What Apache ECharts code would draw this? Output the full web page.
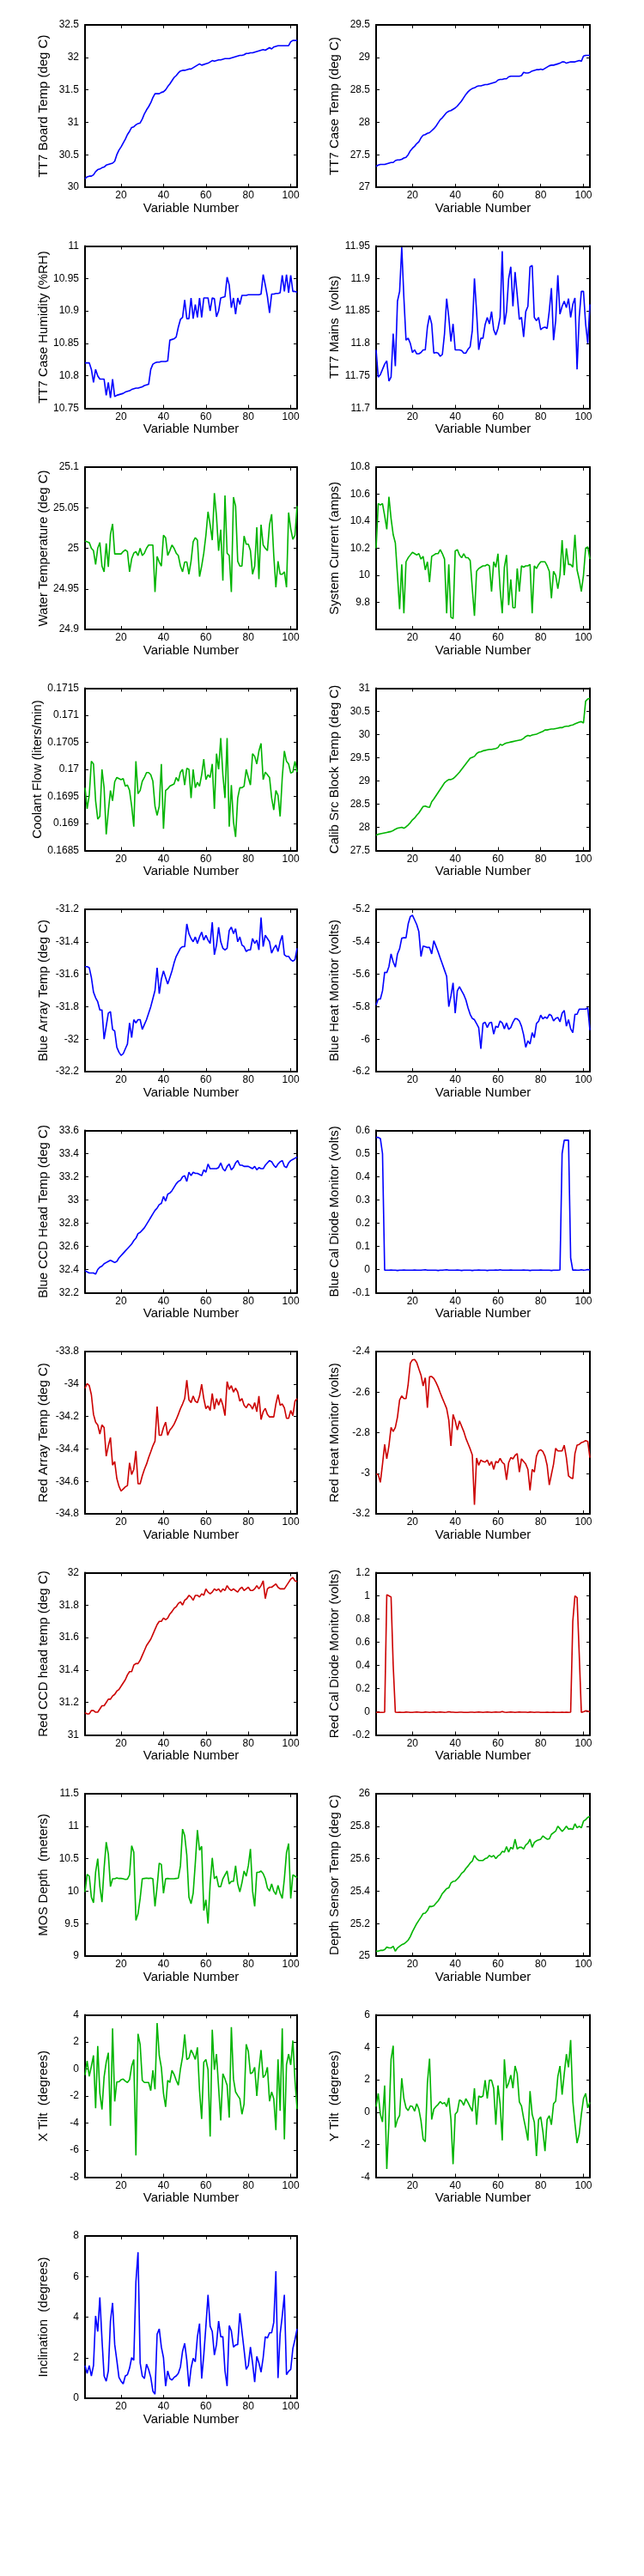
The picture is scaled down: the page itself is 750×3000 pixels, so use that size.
<!DOCTYPE html>
<html>
<head>
<meta charset="utf-8">
<script src="https://cdn.jsdelivr.net/npm/echarts@6/dist/echarts.min.js"></script>
<style>
  html, body { margin: 0; padding: 0; background: #fff; }
  #chart { width: 750px; height: 3000px; }
</style>
</head>
<body>
<div id="chart"></div>
<script>
// x values (Variable Number) shared by every panel
var variableNumbers = [
  3,4,5,6,7,8,9,10,11,12,13,14,15,16,17,18,19,20,21,22,23,24,25,26,27,28,29,30,31,32,
  33,34,35,36,37,38,39,40,41,42,43,44,45,46,47,48,49,50,51,52,53,54,55,56,57,58,59,60,61,62,
  63,64,65,66,67,68,69,70,71,72,73,74,75,76,77,78,79,80,81,82,83,84,85,86,87,88,89,90,91,92,
  93,94,95,96,97,98,99,100,101,102,103
];
var xTickValues = [20, 40, 60, 80, 100];

var boardTemp = [
  30.13,30.16,30.17,30.17,30.19,30.24,30.27,30.28,30.3,30.31,
  30.34,30.35,30.36,30.37,30.4,30.5,30.57,30.62,30.68,30.74,
  30.81,30.86,30.92,30.93,30.96,30.98,30.99,31.05,31.13,31.19,
  31.24,31.3,31.38,31.44,31.44,31.44,31.46,31.47,31.5,31.55,
  31.59,31.64,31.69,31.72,31.76,31.79,31.8,31.8,31.81,31.82,
  31.82,31.84,31.86,31.88,31.9,31.88,31.89,31.9,31.91,31.93,
  31.95,31.94,31.95,31.96,31.96,31.97,31.98,31.98,31.98,31.99,
  32.0,32.01,32.02,32.03,32.03,32.04,32.06,32.06,32.07,32.07,
  32.08,32.09,32.1,32.11,32.12,32.11,32.13,32.15,32.13,32.16,
  32.17,32.18,32.18,32.18,32.18,32.18,32.18,32.24,32.26,32.26,
  32.26
];
var caseTemp = [
  27.32,27.34,27.35,27.35,27.35,27.36,27.37,27.38,27.38,27.41,
  27.42,27.42,27.43,27.45,27.46,27.5,27.56,27.6,27.63,27.67,
  27.7,27.76,27.8,27.81,27.83,27.84,27.87,27.9,27.94,27.99,
  28.04,28.07,28.11,28.15,28.17,28.18,28.2,28.22,28.25,28.29,
  28.33,28.38,28.43,28.47,28.5,28.52,28.53,28.55,28.56,28.56,
  28.57,28.58,28.58,28.59,28.6,28.61,28.62,28.65,28.66,28.66,
  28.67,28.67,28.7,28.71,28.71,28.71,28.71,28.71,28.72,28.77,
  28.76,28.76,28.77,28.79,28.8,28.81,28.81,28.82,28.81,28.83,
  28.85,28.87,28.88,28.88,28.89,28.9,28.91,28.93,28.93,28.91,
  28.92,28.93,28.93,28.93,28.94,28.95,28.94,29.02,29.03,29.03,
  29.03
];
var caseHumidity = [
  10.82,10.82,10.82,10.81,10.79,10.81,10.8,10.795,10.795,10.795,
  10.77,10.79,10.766,10.795,10.768,10.77,10.771,10.772,10.773,10.775,
  10.776,10.777,10.779,10.78,10.781,10.781,10.782,10.783,10.785,10.786,
  10.787,10.81,10.818,10.82,10.821,10.821,10.822,10.822,10.822,10.823,
  10.855,10.856,10.857,10.86,10.875,10.887,10.89,10.917,10.888,10.888,
  10.92,10.888,10.91,10.89,10.92,10.89,10.92,10.92,10.92,10.9,
  10.92,10.919,10.891,10.9,10.92,10.921,10.922,10.952,10.94,10.905,
  10.92,10.895,10.92,10.91,10.924,10.924,10.924,10.925,10.925,10.925,
  10.925,10.925,10.925,10.926,10.956,10.94,10.922,10.897,10.926,10.926,
  10.927,10.927,10.928,10.955,10.93,10.956,10.928,10.955,10.93,10.93,
  10.929
];
var mainsVolts = [
  11.79,11.748,11.752,11.76,11.768,11.773,11.742,11.748,11.815,11.765,
  11.865,11.88,11.948,11.87,11.805,11.808,11.8,11.786,11.79,11.784,
  11.784,11.786,11.79,11.79,11.825,11.843,11.83,11.785,11.786,11.785,
  11.78,11.783,11.815,11.869,11.84,11.803,11.83,11.79,11.79,11.79,
  11.789,11.785,11.785,11.791,11.795,11.82,11.9,11.849,11.79,11.808,
  11.808,11.829,11.84,11.83,11.849,11.821,11.813,11.823,11.84,11.942,
  11.829,11.849,11.9,11.918,11.857,11.91,11.875,11.837,11.84,11.81,
  11.849,11.857,11.918,11.92,11.84,11.835,11.84,11.821,11.824,11.825,
  11.823,11.85,11.885,11.805,11.835,11.905,11.845,11.857,11.865,11.855,
  11.869,11.84,11.86,11.87,11.76,11.84,11.88,11.88,11.83,11.8,
  11.86
];
var waterTemp = [
  25.009,25.008,25.007,25.0,24.997,24.98,25.0,25.007,24.978,24.971,
  25.006,24.977,25.017,25.03,24.993,24.993,24.993,24.993,24.996,24.998,
  24.996,24.971,24.987,24.994,24.996,24.991,25.0,24.991,24.994,25.0,
  25.004,25.004,25.004,24.946,24.99,24.983,24.978,25.016,25.013,24.991,
  24.997,25.004,25.0,24.994,24.991,24.978,24.971,24.983,24.983,24.968,
  24.984,25.008,25.013,25.01,24.965,24.978,24.994,25.016,25.045,25.029,
  25.01,25.068,25.039,24.997,25.023,24.96,25.065,24.994,24.991,24.946,
  25.063,25.052,24.984,24.978,24.978,25.015,25.005,25.005,24.997,24.968,
  24.978,25.026,24.962,25.029,25.004,25.0,24.997,25.029,25.042,24.991,
  24.952,24.984,24.968,24.968,24.971,24.952,25.044,25.024,25.011,25.016,
  25.052
];
var systemCurrent = [
  10.2,10.53,10.52,10.53,10.44,10.34,10.58,10.42,10.3,10.24,
  10.0,9.75,10.08,9.72,10.1,10.13,10.15,10.17,10.16,10.15,
  10.16,10.12,10.14,10.04,10.1,9.95,10.14,10.15,10.16,10.16,
  10.19,10.16,10.12,9.72,10.08,9.69,9.68,10.18,10.19,10.15,
  10.13,10.16,10.13,10.13,10.11,9.9,9.7,10.03,10.05,10.06,
  10.07,10.07,10.08,10.07,9.88,10.1,10.06,10.16,9.9,9.72,
  10.06,10.15,9.78,9.97,9.76,9.76,10.05,9.88,10.07,10.06,
  10.07,10.07,10.08,9.72,10.07,10.05,10.08,10.1,10.1,10.1,
  10.07,10.03,9.83,10.03,10.0,9.9,10.0,10.26,10.0,10.2,
  10.08,10.08,10.06,10.3,10.04,9.97,9.88,10.0,10.2,10.21,
  10.12
];
var coolantFlow = [
  0.16966,0.16927,0.16952,0.17015,0.1701,0.16942,0.16908,0.16913,0.17,0.16966,
  0.1688,0.16923,0.16961,0.16942,0.16977,0.16985,0.16983,0.16981,0.16983,0.16969,
  0.16971,0.16961,0.16932,0.16894,0.17015,0.16955,0.16961,0.16978,0.16985,0.16994,
  0.16994,0.1699,0.16978,0.16932,0.16915,0.16932,0.1701,0.1689,0.16961,0.16964,
  0.16969,0.16971,0.16973,0.16985,0.16978,0.16995,0.17,0.16971,0.17002,0.17,
  0.16947,0.17,0.16966,0.16976,0.16969,0.1699,0.17019,0.16981,0.1699,0.16985,
  0.1701,0.16927,0.17029,0.17,0.17058,0.1699,0.16947,0.17058,0.16894,0.16971,
  0.16903,0.16875,0.16947,0.16966,0.16966,0.16969,0.17,0.16985,0.16971,0.17029,
  0.17024,0.1701,0.17034,0.17048,0.16981,0.16995,0.1699,0.16985,0.16947,0.16925,
  0.16961,0.16952,0.16913,0.16985,0.17034,0.17015,0.1701,0.16993,0.16995,0.17015,
  0.16995
];
var calibBlockTemp = [
  27.83,27.85,27.86,27.87,27.88,27.89,27.9,27.91,27.93,27.96,
  27.98,27.99,28.0,27.98,28.01,28.05,28.1,28.16,28.2,28.26,
  28.31,28.38,28.45,28.46,28.44,28.43,28.55,28.61,28.68,28.75,
  28.82,28.89,28.96,29.0,29.03,29.03,29.05,29.09,29.14,29.19,
  29.25,29.31,29.37,29.43,29.49,29.51,29.53,29.59,29.62,29.63,
  29.65,29.66,29.67,29.68,29.68,29.69,29.7,29.72,29.79,29.77,
  29.8,29.82,29.83,29.84,29.85,29.86,29.87,29.88,29.89,29.92,
  29.96,29.98,29.97,29.99,30.0,30.01,30.03,30.05,30.07,30.1,
  30.1,30.11,30.12,30.12,30.13,30.14,30.15,30.15,30.17,30.18,
  30.18,30.2,30.21,30.23,30.25,30.27,30.28,30.25,30.72,30.77,
  30.78
];
var blueArrayTemp = [
  -31.553,-31.553,-31.56,-31.62,-31.71,-31.745,-31.77,-31.82,-31.82,-32.0,
  -31.92,-31.84,-31.83,-31.94,-31.95,-32.05,-32.08,-32.1,-32.09,-32.06,
  -32.03,-31.9,-31.99,-31.88,-31.9,-31.88,-31.88,-31.94,-31.91,-31.88,
  -31.84,-31.8,-31.75,-31.7,-31.56,-31.72,-31.63,-31.58,-31.62,-31.66,
  -31.62,-31.58,-31.53,-31.49,-31.465,-31.44,-31.43,-31.43,-31.29,-31.35,
  -31.38,-31.4,-31.37,-31.41,-31.37,-31.34,-31.39,-31.36,-31.39,-31.41,
  -31.28,-31.48,-31.42,-31.31,-31.4,-31.44,-31.45,-31.44,-31.33,-31.31,
  -31.35,-31.32,-31.4,-31.37,-31.42,-31.43,-31.46,-31.45,-31.45,-31.38,
  -31.41,-31.39,-31.45,-31.25,-31.43,-31.36,-31.38,-31.4,-31.47,-31.44,
  -31.42,-31.46,-31.4,-31.36,-31.48,-31.49,-31.49,-31.51,-31.52,-31.51,
  -31.44
];
var blueHeatMonitor = [
  -5.79,-5.753,-5.753,-5.702,-5.588,-5.59,-5.553,-5.475,-5.524,-5.556,
  -5.475,-5.443,-5.378,-5.375,-5.375,-5.29,-5.245,-5.236,-5.265,-5.294,
  -5.338,-5.491,-5.427,-5.43,-5.435,-5.435,-5.475,-5.394,-5.427,-5.462,
  -5.5,-5.537,-5.575,-5.613,-5.8,-5.734,-5.653,-5.84,-5.702,-5.677,
  -5.702,-5.726,-5.758,-5.807,-5.847,-5.872,-5.88,-5.904,-5.93,-6.06,
  -5.904,-5.896,-5.928,-5.9,-5.896,-5.969,-5.92,-5.928,-5.888,-5.9,
  -5.936,-5.9,-5.94,-5.928,-5.896,-5.873,-5.875,-5.888,-5.92,-5.973,
  -6.05,-6.01,-6.03,-5.96,-5.99,-5.904,-5.89,-5.852,-5.875,-5.863,
  -5.872,-5.847,-5.855,-5.888,-5.872,-5.866,-5.893,-5.84,-5.823,-5.92,
  -5.88,-5.936,-5.96,-5.847,-5.847,-5.815,-5.815,-5.815,-5.815,-5.807,
  -5.944
];
var blueCcdTemp = [
  32.39,32.38,32.37,32.37,32.37,32.36,32.4,32.42,32.43,32.45,
  32.46,32.47,32.48,32.47,32.46,32.47,32.5,32.52,32.54,32.56,
  32.58,32.6,32.62,32.65,32.67,32.71,32.72,32.74,32.76,32.79,
  32.82,32.85,32.88,32.91,32.93,32.96,32.97,33.03,32.99,33.05,
  33.06,33.08,33.11,33.14,33.16,33.17,33.2,33.21,33.16,33.24,
  33.21,33.24,33.23,33.23,33.22,33.21,33.26,33.24,33.31,33.27,
  33.27,33.27,33.27,33.28,33.32,33.27,33.25,33.29,33.31,33.26,
  33.28,33.32,33.34,33.3,33.3,33.29,33.29,33.29,33.28,33.27,
  33.29,33.26,33.28,33.27,33.27,33.3,33.32,33.34,33.33,33.3,
  33.28,33.31,33.33,33.34,33.29,33.28,33.32,33.34,33.35,33.36,
  33.37
];
var blueCalDiode = [
  0.57,0.57,0.565,0.5,-0.003,-0.003,-0.003,-0.002,-0.003,-0.003,
  -0.004,-0.003,-0.003,-0.002,-0.003,-0.003,-0.003,-0.003,-0.002,-0.003,
  -0.003,-0.003,-0.002,-0.001,-0.003,-0.003,-0.003,-0.003,-0.003,-0.004,
  -0.003,-0.003,-0.002,-0.001,-0.003,-0.003,-0.003,-0.003,-0.002,-0.003,
  -0.004,-0.003,-0.003,-0.003,-0.003,-0.004,-0.003,-0.003,-0.002,-0.003,
  -0.003,-0.003,-0.004,-0.003,-0.003,-0.003,-0.002,-0.003,-0.001,-0.003,
  -0.003,-0.003,-0.003,-0.002,-0.003,-0.003,-0.003,-0.003,-0.003,-0.002,
  -0.003,-0.003,-0.004,-0.003,-0.003,-0.003,-0.003,-0.002,-0.003,-0.003,
  -0.003,-0.003,-0.004,-0.003,-0.003,-0.003,-0.002,0.5,0.558,0.558,
  0.558,0.05,-0.003,-0.002,-0.003,-0.003,-0.001,-0.003,-0.002,0.0,
  -0.002
];
var redArrayTemp = [
  -34.026,-33.997,-34.01,-34.066,-34.187,-34.235,-34.252,-34.308,-34.252,-34.268,
  -34.445,-34.381,-34.33,-34.5,-34.478,-34.582,-34.63,-34.66,-34.647,-34.634,
  -34.626,-34.486,-34.558,-34.526,-34.413,-34.615,-34.615,-34.566,-34.526,-34.494,
  -34.453,-34.418,-34.381,-34.352,-34.139,-34.316,-34.316,-34.268,-34.235,-34.316,
  -34.284,-34.268,-34.248,-34.219,-34.187,-34.152,-34.123,-34.09,-33.977,-34.098,
  -34.115,-34.074,-34.106,-34.115,-34.074,-34.002,-34.09,-34.152,-34.135,-34.163,
  -34.058,-34.155,-34.09,-34.131,-34.09,-34.131,-34.195,-33.985,-34.034,-34.01,
  -34.05,-34.026,-34.05,-34.106,-34.09,-34.131,-34.147,-34.123,-34.131,-34.155,
  -34.115,-34.171,-34.074,-34.219,-34.171,-34.15,-34.187,-34.203,-34.203,-34.203,
  -34.123,-34.066,-34.131,-34.123,-34.147,-34.211,-34.211,-34.163,-34.195,-34.106,
  -34.09
];
var redHeatMonitor = [
  -3.004,-3.006,-3.045,-2.955,-2.858,-2.929,-2.865,-2.774,-2.794,-2.774,
  -2.723,-2.639,-2.619,-2.632,-2.632,-2.561,-2.458,-2.441,-2.439,-2.454,
  -2.486,-2.516,-2.57,-2.529,-2.677,-2.524,-2.523,-2.533,-2.552,-2.575,
  -2.603,-2.63,-2.655,-2.681,-2.738,-2.865,-2.71,-2.742,-2.787,-2.742,
  -2.768,-2.794,-2.828,-2.854,-2.88,-2.91,-3.155,-2.925,-2.961,-2.935,
  -2.942,-2.945,-2.935,-2.961,-2.942,-2.981,-2.942,-2.948,-2.926,-2.946,
  -2.955,-3.032,-2.948,-2.923,-2.929,-2.912,-2.903,-2.994,-2.929,-2.942,
  -2.955,-2.981,-3.084,-2.981,-2.994,-2.916,-2.89,-2.884,-2.893,-2.916,
  -2.961,-3.058,-3.006,-2.955,-2.877,-2.89,-2.89,-2.89,-2.862,-2.923,
  -3.013,-3.022,-3.026,-2.903,-2.861,-2.858,-2.849,-2.845,-2.839,-2.843,
  -2.923
];
var redCcdTemp = [
  31.137,31.13,31.13,31.15,31.15,31.14,31.14,31.16,31.18,31.18,
  31.2,31.22,31.22,31.24,31.25,31.27,31.28,31.3,31.32,31.34,
  31.37,31.39,31.39,31.43,31.44,31.44,31.46,31.49,31.52,31.55,
  31.57,31.59,31.62,31.65,31.68,31.7,31.7,31.72,31.71,31.72,
  31.745,31.76,31.78,31.79,31.81,31.82,31.8,31.83,31.84,31.86,
  31.85,31.83,31.86,31.86,31.85,31.87,31.86,31.9,31.88,31.87,
  31.88,31.9,31.89,31.9,31.88,31.9,31.89,31.92,31.9,31.89,
  31.9,31.89,31.88,31.9,31.91,31.89,31.9,31.91,31.89,31.89,
  31.9,31.92,31.9,31.92,31.95,31.84,31.9,31.91,31.91,31.92,
  31.93,31.91,31.9,31.9,31.9,31.92,31.94,31.96,31.97,31.95,
  31.945
];
var redCalDiode = [
  -0.005,-0.004,-0.005,-0.005,-0.004,1.01,1.0,0.99,0.4,-0.004,
  -0.005,-0.004,-0.005,-0.005,-0.003,-0.004,-0.005,-0.005,-0.004,-0.003,
  -0.004,-0.005,-0.005,-0.003,-0.004,-0.005,-0.004,-0.003,-0.005,-0.004,
  -0.003,-0.004,-0.005,-0.004,0.0,-0.003,-0.004,-0.005,-0.005,-0.004,
  -0.004,-0.005,-0.006,-0.005,-0.004,-0.004,-0.005,-0.004,-0.003,-0.004,
  -0.005,-0.004,-0.003,-0.004,-0.005,-0.004,-0.003,-0.004,-0.004,0.002,
  -0.004,-0.005,-0.004,-0.003,-0.004,-0.005,-0.004,-0.003,-0.004,-0.004,
  -0.004,-0.005,-0.003,-0.004,-0.005,-0.004,-0.004,-0.005,-0.006,-0.005,
  -0.004,-0.006,-0.005,-0.004,-0.005,-0.006,-0.005,-0.004,-0.005,-0.004,
  -0.005,-0.004,0.78,1.0,0.985,0.5,-0.005,0.0,0.008,0.006,
  -0.002
];
var mosDepth = [
  9.988,10.26,10.23,9.907,9.82,10.29,10.5,10.07,9.83,10.35,
  10.754,10.57,10.07,10.19,10.19,10.205,10.195,10.195,10.19,10.18,
  10.185,10.25,10.7,10.6,9.55,9.65,9.887,10.19,10.195,10.2,
  10.195,10.2,10.19,9.766,10.07,10.43,10.41,9.968,10.19,10.195,
  10.19,10.19,10.19,10.195,10.2,10.39,10.956,10.855,10.552,9.907,
  9.807,9.968,10.43,10.94,10.63,10.69,9.7,9.867,9.5,10.11,
  10.512,10.19,10.23,10.07,10.07,10.19,10.25,10.31,10.11,10.15,
  10.15,10.39,10.11,9.988,10.13,10.31,10.23,10.39,10.65,10.0,
  9.766,10.29,10.29,10.31,10.27,10.19,10.05,10.0,10.11,10.0,
  9.948,10.09,9.968,9.887,10.19,10.593,10.734,9.887,10.25,10.23,
  10.21
];
var depthSensorTemp = [
  25.03,25.03,25.035,25.035,25.04,25.055,25.05,25.05,25.06,25.03,
  25.05,25.06,25.07,25.075,25.085,25.098,25.12,25.15,25.175,25.2,
  25.22,25.24,25.262,25.265,25.28,25.306,25.305,25.31,25.325,25.34,
  25.36,25.385,25.4,25.415,25.42,25.45,25.46,25.462,25.475,25.49,
  25.51,25.52,25.54,25.555,25.573,25.585,25.62,25.6,25.589,25.589,
  25.589,25.6,25.605,25.62,25.61,25.62,25.6,25.617,25.625,25.645,
  25.64,25.675,25.64,25.67,25.66,25.72,25.66,25.67,25.67,25.66,
  25.685,25.695,25.72,25.67,25.7,25.71,25.715,25.72,25.74,25.73,
  25.72,25.722,25.75,25.76,25.77,25.8,25.785,25.768,25.782,25.8,
  25.782,25.785,25.78,25.815,25.79,25.8,25.79,25.831,25.84,25.855,
  25.86
];
var xTilt = [
  -0.45,0.6,-0.55,0.2,1.0,-2.9,1.7,-1.8,-3.0,-0.6,
  0.5,1.2,-4.2,3.0,-2.4,-0.95,-0.95,-0.8,-0.75,-0.9,
  -1.0,-0.8,0.2,0.7,-6.4,2.6,1.8,-0.84,-1.0,-1.0,
  -1.0,-1.6,-0.1,-1.5,3.4,1.0,0.1,-1.8,-2.8,-0.84,
  -1.0,-0.1,-0.4,-0.84,-1.2,0.0,0.9,2.55,0.7,0.8,
  1.4,1.1,0.7,1.6,-1.6,-3.7,0.5,0.7,-0.06,-5.0,
  2.9,-0.06,1.1,-1.4,-3.8,-0.35,-0.74,-1.2,-3.6,3.1,
  -0.74,-1.7,-1.96,-2.2,-3.35,-2.6,1.83,1.3,-0.35,-0.26,
  0.13,-2.0,-0.06,1.4,-0.64,-0.45,0.13,-2.39,-1.7,-2.2,
  -4.52,0.71,-3.1,3.0,-5.2,0.32,1.1,0.3,2.1,-0.84,
  -2.97
];
var yTilt = [
  0.35,1.16,-0.13,-0.6,1.65,-3.5,-0.61,3.26,4.1,-0.94,
  -0.45,-0.2,2.1,0.84,0.27,0.1,0.39,0.35,0.06,0.52,
  0.19,-0.53,-1.66,-1.82,1.8,3.3,-0.45,0.19,0.35,0.48,
  0.66,0.52,0.6,0.35,0.89,-0.45,-3.2,-0.13,0.03,0.76,
  0.68,0.43,0.84,0.6,0.32,0.06,1.48,-0.77,1.0,0.92,
  1.0,1.97,0.84,1.97,1.97,1.48,-0.77,1.65,0.52,-1.74,
  3.26,1.48,1.8,2.29,1.48,2.85,2.37,0.64,0.39,-0.37,
  -1.0,-1.74,1.3,-0.13,-0.61,-2.7,-0.45,-0.29,-1.18,-2.39,
  -0.45,-0.21,-0.77,0.52,0.68,2.2,2.85,1.08,2.37,3.58,
  2.77,4.45,0.68,-0.69,-1.9,-1.34,-0.13,0.84,1.16,0.27,
  0.6
];
var inclination = [
  1.61,1.23,1.61,1.1,1.61,4.06,3.29,4.97,2.9,1.1,
  0.84,1.35,3.81,4.7,2.65,1.87,1.03,0.84,0.71,1.1,
  1.16,1.48,2.0,1.87,5.74,7.2,1.74,1.1,0.97,1.68,
  1.42,1.03,0.35,0.2,3.16,3.42,2.52,2.0,0.6,1.35,
  0.97,0.9,1.03,1.1,1.23,1.55,2.32,2.71,1.87,0.58,
  1.48,1.97,1.8,3.03,3.68,0.97,2.13,3.55,5.1,3.55,
  3.29,2.13,2.65,3.81,3.03,3.03,1.35,0.6,3.58,3.32,
  2.52,2.62,2.65,4.19,3.29,2.39,1.42,1.61,2.52,1.74,
  0.8,2.06,1.74,1.29,2.0,3.03,2.97,3.23,3.23,3.74,
  6.26,1.0,3.16,4.06,5.1,1.16,1.33,1.42,2.45,2.9,
  3.42
];

var BLUE = "#0000ff", GREEN = "#00b400", RED = "#cc0000";

// one entry per subplot, row by row (left, right)
var panels = [
  { name: "TT7 Board Temp (deg C)", data: boardTemp, color: BLUE, min: 30, max: 32.5, interval: 0.5 },
  { name: "TT7 Case Temp (deg C)", data: caseTemp, color: BLUE, min: 27, max: 29.5, interval: 0.5 },
  { name: "TT7 Case Humidity (%RH)", data: caseHumidity, color: BLUE, min: 10.75, max: 11, interval: 0.05 },
  { name: "TT7 Mains  (volts)", data: mainsVolts, color: BLUE, min: 11.7, max: 11.95, interval: 0.05 },
  { name: "Water Temperature (deg C)", data: waterTemp, color: GREEN, min: 24.9, max: 25.1, interval: 0.05 },
  { name: "System Current (amps)", data: systemCurrent, color: GREEN, min: 9.6, max: 10.8, interval: 0.2, hideMin: true },
  { name: "Coolant Flow (liters/min)", data: coolantFlow, color: GREEN, min: 0.1685, max: 0.1715, interval: 0.0005 },
  { name: "Calib Src Block Temp (deg C)", data: calibBlockTemp, color: GREEN, min: 27.5, max: 31, interval: 0.5 },
  { name: "Blue Array Temp (deg C)", data: blueArrayTemp, color: BLUE, min: -32.2, max: -31.2, interval: 0.2 },
  { name: "Blue Heat Monitor (volts)", data: blueHeatMonitor, color: BLUE, min: -6.2, max: -5.2, interval: 0.2 },
  { name: "Blue CCD Head Temp (deg C)", data: blueCcdTemp, color: BLUE, min: 32.2, max: 33.6, interval: 0.2 },
  { name: "Blue Cal Diode Monitor (volts)", data: blueCalDiode, color: BLUE, min: -0.1, max: 0.6, interval: 0.1 },
  { name: "Red Array Temp (deg C)", data: redArrayTemp, color: RED, min: -34.8, max: -33.8, interval: 0.2 },
  { name: "Red Heat Monitor (volts)", data: redHeatMonitor, color: RED, min: -3.2, max: -2.4, interval: 0.2 },
  { name: "Red CCD head temp (deg C)", data: redCcdTemp, color: RED, min: 31, max: 32, interval: 0.2 },
  { name: "Red Cal Diode Monitor (volts)", data: redCalDiode, color: RED, min: -0.2, max: 1.2, interval: 0.2 },
  { name: "MOS Depth  (meters)", data: mosDepth, color: GREEN, min: 9, max: 11.5, interval: 0.5 },
  { name: "Depth Sensor Temp (deg C)", data: depthSensorTemp, color: GREEN, min: 25, max: 26, interval: 0.2 },
  { name: "X Tilt  (degrees)", data: xTilt, color: GREEN, min: -8, max: 4, interval: 2 },
  { name: "Y Tilt  (degrees)", data: yTilt, color: GREEN, min: -4, max: 6, interval: 2 },
  { name: "Inclination  (degrees)", data: inclination, color: BLUE, min: 0, max: 8, interval: 2 }
];

var FONT = "'Liberation Sans', Arial, Helvetica, sans-serif";
var frameLine = { show: true, onZero: false, lineStyle: { color: "#000", width: 2 } };

var grids = [], xAxes = [], yAxes = [], series = [];

panels.forEach(function (p, i) {
  var row = Math.floor(i / 2), col = i % 2;
  grids.push({
    left: col === 0 ? 99 : 438,
    width: col === 0 ? 247 : 249,
    top: 29 + row * 257.5,
    height: 189
  });
  // bottom + top x axes
  xAxes.push({
    gridIndex: i, type: "value", min: 3, max: 103, position: "bottom",
    axisLine: frameLine,
    axisTick: { inside: true, length: 4, customValues: xTickValues, lineStyle: { color: "#000" } },
    axisLabel: { customValues: xTickValues, color: "#000", fontSize: 12, fontFamily: FONT, margin: 4 },
    splitLine: { show: false },
    name: "Variable Number", nameLocation: "middle", nameGap: 17,
    nameTextStyle: { color: "#000", fontSize: 15, fontFamily: FONT }
  });
  xAxes.push({
    gridIndex: i, type: "value", min: 3, max: 103, position: "top",
    axisLine: frameLine,
    axisTick: { inside: true, length: 4, customValues: xTickValues, lineStyle: { color: "#000" } },
    axisLabel: { show: false },
    splitLine: { show: false }
  });
  // left + right y axes
  yAxes.push({
    gridIndex: i, type: "value", min: p.min, max: p.max, interval: p.interval, position: "left",
    axisLine: frameLine,
    axisTick: { inside: true, length: 4, lineStyle: { color: "#000" } },
    axisLabel: { color: "#000", fontSize: 12, fontFamily: FONT, margin: 7, showMinLabel: !p.hideMin },
    splitLine: { show: false },
    name: p.name, nameLocation: "middle", nameRotate: 90, nameGap: 41,
    nameTextStyle: { color: "#000", fontSize: 15, fontFamily: FONT }
  });
  yAxes.push({
    gridIndex: i, type: "value", min: p.min, max: p.max, interval: p.interval, position: "right",
    axisLine: frameLine,
    axisTick: { inside: true, length: 4, lineStyle: { color: "#000" } },
    axisLabel: { show: false },
    splitLine: { show: false }
  });
  series.push({
    type: "line",
    xAxisIndex: 2 * i,
    yAxisIndex: 2 * i,
    data: variableNumbers.map(function (x, k) { return [x, p.data[k]]; }),
    symbol: "none",
    lineStyle: { color: p.color, width: 1.6 },
    clip: true
  });
});

var myChart = echarts.init(document.getElementById("chart"), null, { renderer: "canvas" });
myChart.setOption({
  backgroundColor: "#fff",
  animation: false,
  grid: grids,
  xAxis: xAxes,
  yAxis: yAxes,
  series: series
});
</script>
</body>
</html>
